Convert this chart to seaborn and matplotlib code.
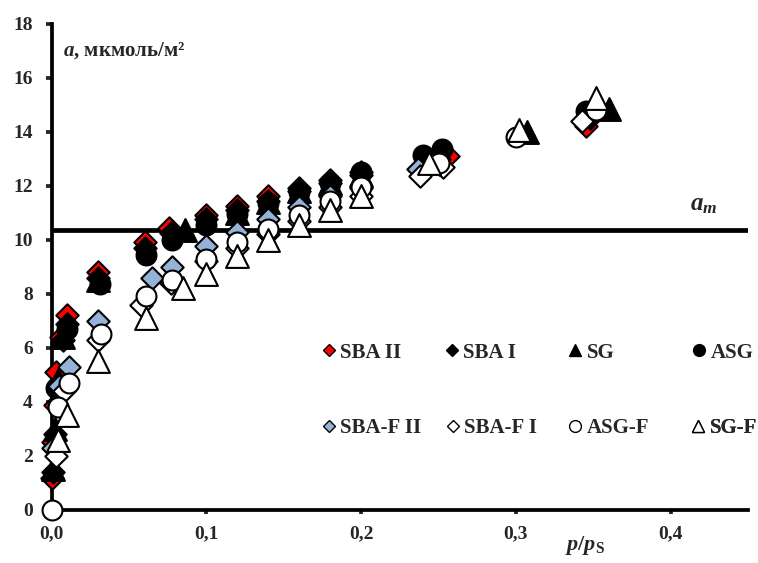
import matplotlib
matplotlib.use("Agg")
import matplotlib.pyplot as plt
from matplotlib.lines import Line2D
import seaborn as sns
import pandas as pd

# ---------------- data ----------------
sba2_x = [0.0005, 0.001, 0.002, 0.003, 0.006, 0.01, 0.03, 0.06, 0.076, 0.1, 0.12, 0.14, 0.16, 0.18, 0.2, 0.256, 0.345]
sba2_y = [1.2, 2.5, 3.9, 5.1, 6.4, 7.2, 8.8, 9.9, 10.45, 10.9, 11.25, 11.6, 11.9, 12.2, 12.5, 13.1, 14.2]

sba1_x = [0.001, 0.002, 0.004, 0.007, 0.01, 0.03, 0.06, 0.077, 0.1, 0.12, 0.14, 0.16, 0.18, 0.2, 0.25, 0.348]
sba1_y = [1.4, 2.8, 4.6, 6.3, 6.9, 8.6, 9.7, 10.25, 10.75, 11.1, 11.45, 11.8, 12.1, 12.4, 13.0, 14.5]

sg_x = [0.001, 0.002, 0.004, 0.007, 0.03, 0.086, 0.12, 0.14, 0.16, 0.18, 0.2, 0.307, 0.36]
sg_y = [1.5, 3.0, 4.8, 6.4, 8.5, 10.35, 11.0, 11.4, 11.8, 12.1, 12.4, 14.0, 14.85]

asg_x = [0.003, 0.01, 0.031, 0.061, 0.078, 0.1, 0.12, 0.14, 0.16, 0.18, 0.2, 0.24, 0.252, 0.345]
asg_y = [4.5, 6.7, 8.35, 9.45, 10.0, 10.55, 10.95, 11.35, 11.75, 12.1, 12.5, 13.15, 13.35, 14.75]

sbaf2_x = [0.001, 0.005, 0.011, 0.03, 0.065, 0.078, 0.1, 0.12, 0.14, 0.16, 0.18, 0.2, 0.237, 0.25]
sbaf2_y = [2.3, 4.6, 5.3, 7.0, 8.6, 9.0, 9.75, 10.3, 10.75, 11.2, 11.6, 11.9, 12.6, 12.8]

sbaf1_x = [0.003, 0.008, 0.03, 0.058, 0.077, 0.1, 0.12, 0.14, 0.16, 0.18, 0.2, 0.238, 0.253, 0.343]
sbaf1_y = [2.0, 4.4, 6.3, 7.6, 8.4, 9.2, 9.7, 10.2, 10.7, 11.2, 11.6, 12.35, 12.7, 14.4]

asgf_x = [0.0, 0.004, 0.011, 0.032, 0.061, 0.078, 0.1, 0.12, 0.14, 0.16, 0.18, 0.2, 0.25, 0.3, 0.352]
asgf_y = [0.0, 3.8, 4.7, 6.5, 7.9, 8.5, 9.3, 9.9, 10.4, 10.9, 11.45, 11.95, 12.85, 13.8, 14.8]

sgf_x = [0.004, 0.01, 0.03, 0.061, 0.085, 0.1, 0.12, 0.14, 0.16, 0.18, 0.2, 0.244, 0.302, 0.352]
sgf_y = [2.6, 3.5, 5.5, 7.1, 8.2, 8.75, 9.4, 10.0, 10.55, 11.1, 11.6, 12.85, 14.05, 15.25]

a_m = 10.37

series_names = ["SBA II", "SBA I", "SG", "ASG", "SBA-F II", "SBA-F I", "ASG-F", "SG-F"]
x_ticks = [0.0, 0.1, 0.2, 0.3, 0.4]
x_tick_labels = ["0,0", "0,1", "0,2", "0,3", "0,4"]
y_ticks = [0, 2, 4, 6, 8, 10, 12, 14, 16, 18]
y_tick_labels = ["0", "2", "4", "6", "8", "10", "12", "14", "16", "18"]

# ---------------- style ----------------
sns.set_style("white")
plt.rcParams["font.family"] = ["Liberation Serif", "DejaVu Serif"]
plt.rcParams["font.weight"] = "bold"
plt.rcParams["mathtext.fontset"] = "custom"
plt.rcParams["mathtext.it"] = "Liberation Serif:italic:bold"
plt.rcParams["mathtext.rm"] = "Liberation Serif:bold"
plt.rcParams["mathtext.bf"] = "Liberation Serif:bold"

W, H = 758, 563
fig = plt.figure(figsize=(W / 100, H / 100), dpi=100)
fig.patch.set_facecolor("white")
x0, x1, y_top, y_bot = 51.7, 748, 23.5, 510
ax = fig.add_axes([x0 / W, 1 - y_bot / H, (x1 - x0) / W, (y_bot - y_top) / H])
ax.set_facecolor("white")

RED = "#FF0000"
BLUE = "#95B3D7"

specs = [
    (sba2_x, sba2_y, "D", RED, 130),
    (sba1_x, sba1_y, "D", "black", 130),
    (sg_x, sg_y, "^", "black", 270),
    (asg_x, asg_y, "o", "black", 205),
    (sbaf2_x, sbaf2_y, "D", BLUE, 130),
    (sbaf1_x, sbaf1_y, "D", "white", 130),
    (asgf_x, asgf_y, "o", "white", 205),
    (sgf_x, sgf_y, "^", "white", 270),
]

ax.axhline(a_m, color="black", lw=3.4, zorder=1)

for i, (xs, ys, m, fc, s) in enumerate(specs):
    df = pd.DataFrame({"x": xs, "y": ys})
    sns.scatterplot(data=df, x="x", y="y", ax=ax, marker=m, s=s, color=fc,
                    edgecolor="black", linewidth=1.5, zorder=3 + i, clip_on=False,
                    legend=False)

ax.set_xlim(0, 0.45)
ax.set_ylim(0, 18)
ax.set_xticks(x_ticks)
ax.set_xticklabels(x_tick_labels)
ax.set_yticks(y_ticks)
ax.set_yticklabels(y_tick_labels)
ax.set_xlabel("")
ax.set_ylabel("")
for side in ["top", "right"]:
    ax.spines[side].set_visible(False)
for side in ["left", "bottom"]:
    ax.spines[side].set_linewidth(2.7)
    ax.spines[side].set_color("black")
    ax.spines[side].set_zorder(2)
ax.tick_params(axis="y", direction="out", length=4.5, width=2.7, pad=9,
               labelsize=14, left=True)
ax.tick_params(axis="x", direction="out", length=3, width=2.7, pad=8,
               labelsize=14, bottom=True)
for lab in ax.get_xticklabels() + ax.get_yticklabels():
    lab.set_fontweight("bold")

# axis titles
fig.text(63 / W, 1 - 56 / H, "$a$, мкмоль/м²", fontsize=15, fontweight="bold",
         ha="left", va="baseline")
fig.text(565 / W, 1 - 550 / H, r"$p/p_\mathrm{S}$", fontsize=16,
         ha="left", va="baseline")
fig.text(690 / W, 1 - 210 / H, r"$a_m$", fontsize=18, ha="left", va="baseline")

# legend (one entry per legend so columns sit at fixed spots)
leg_pos = [(329, 352.7), (452, 352.7), (575, 352.7), (699, 352.7),
           (329, 428), (453, 428), (575, 428), (698, 428)]
leg_ms = {"D": 6.2, "^": 8.5, "o": 8.5}
fs = 15
fspx = fs * 100 / 72
hl = 0.8
for (xs, ys, m, fc, s), name, (px, py) in zip(specs, series_names, leg_pos):
    h = Line2D([], [], linestyle="none", marker=m, markersize=leg_ms[m],
               markerfacecolor=fc, markeredgecolor="black", markeredgewidth=1.0)
    left_px = px - hl * fspx / 2
    lg = ax.legend(handles=[h], labels=[name], loc="center left",
                   bbox_to_anchor=(left_px / W, 1 - py / H),
                   bbox_transform=fig.transFigure, frameon=False,
                   borderpad=0, borderaxespad=0, handlelength=hl,
                   handletextpad=0.15, prop={"size": fs, "weight": "bold"})
    ax.add_artist(lg)

fig.savefig("out.png", dpi=100, facecolor="white")
